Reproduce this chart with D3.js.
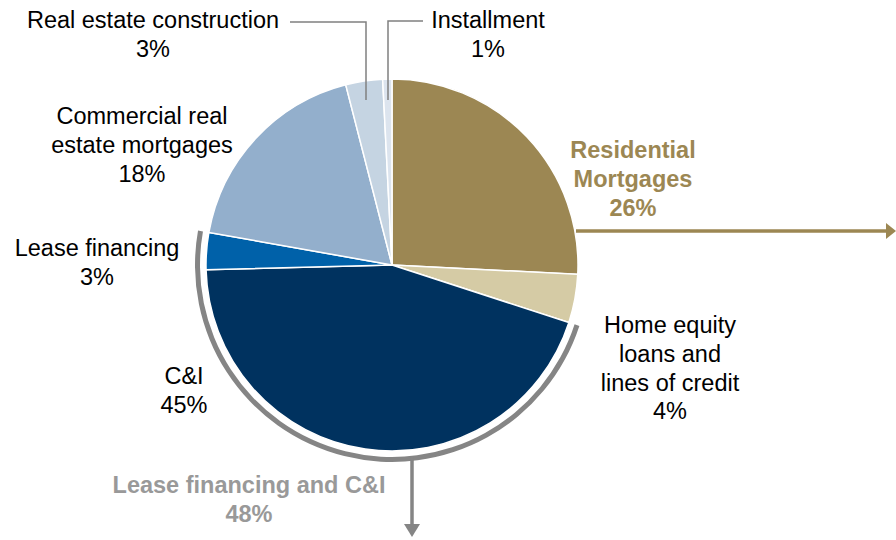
<!DOCTYPE html>
<html><head><meta charset="utf-8">
<script src="https://cdn.jsdelivr.net/npm/d3@7"></script>
<style>body{margin:0;background:#fff}svg{display:block}text{font-family:"Liberation Sans",Arial,sans-serif}</style>
</head><body>
<svg id="c" width="896" height="540"></svg>
<script>
const categories = ["Residential Mortgages","Home equity loans and lines of credit","C&I","Lease financing","Commercial real estate mortgages","Real estate construction","Installment"];
const values = [25.8,4.2,44.6,3.2,18.2,3.2,0.8];
const colors = ["#9C8753","#D5CBA5","#00325F","#0061A9","#93AFCC","#C5D4E2","#DCE4EE"];
const labelLines = [
  ["Residential","Mortgages","26%"],
  ["Home equity","loans and","lines of credit","4%"],
  ["C&I","45%"],
  ["Lease financing","3%"],
  ["Commercial real","estate mortgages","18%"],
  ["Real estate construction","3%"],
  ["Installment","1%"]
];
const groupLabel = ["Lease financing and C&I","48%"];

const svg = d3.select("#c");
const cx = 392, cy = 265, R = 186;
const g = svg.append("g").attr("transform",`translate(${cx},${cy})`);
const pie = d3.pie().sort(null).value(d=>d)(values);
const arc = d3.arc().innerRadius(0).outerRadius(R);
g.selectAll("path.s").data(pie).join("path").attr("class","s")
  .attr("d",arc).attr("fill",(d,i)=>colors[i]).attr("stroke","#fff").attr("stroke-width",1.5);

// gray bracket arc around C&I + Lease
const grp = d3.arc().innerRadius(R+6).outerRadius(R+11)
  .startAngle(pie[2].startAngle).endAngle(pie[3].endAngle);
g.append("path").attr("d",grp()).attr("fill","#858585");

// arrows
svg.append("line").attr("x1",576).attr("y1",231).attr("x2",888).attr("y2",231)
  .attr("stroke","#9C8753").attr("stroke-width",3.5);
svg.append("path").attr("d","M886,223L896,231L886,239Z").attr("fill","#9C8753");
svg.append("line").attr("x1",412).attr("y1",456).attr("x2",412).attr("y2",526)
  .attr("stroke","#858585").attr("stroke-width",3.5);
svg.append("path").attr("d","M404,524L420,524L412,537Z").attr("fill","#858585");

// leader lines
svg.append("polyline").attr("points","290,22 366,22 366,100").attr("fill","none").attr("stroke","#808080").attr("stroke-width",1.5);
svg.append("polyline").attr("points","423,21 388,21 388,100").attr("fill","none").attr("stroke","#808080").attr("stroke-width",1.5);

const pos = [[633,150,"#9C8753",true],[670,325,"#000",false],[184,376,"#000",false],[97,248,"#000",false],[142,116,"#000",false],[153,20,"#000",false],[488,20,"#000",false]];
function label(lines,x,y,col,bold){
  const t = svg.append("text").attr("x",x).attr("y",y).attr("text-anchor","middle")
    .attr("fill",col).attr("font-size",23.5).attr("font-weight",bold?"bold":"normal").attr("dominant-baseline","central");
  lines.forEach((l,i)=>t.append("tspan").attr("x",x).attr("dy",i?28.8:0).text(l));
}
labelLines.forEach((l,i)=>label(l,pos[i][0],pos[i][1],pos[i][2],pos[i][3]));
label(groupLabel,249,485,"#999999",true);
</script>
</body></html>
